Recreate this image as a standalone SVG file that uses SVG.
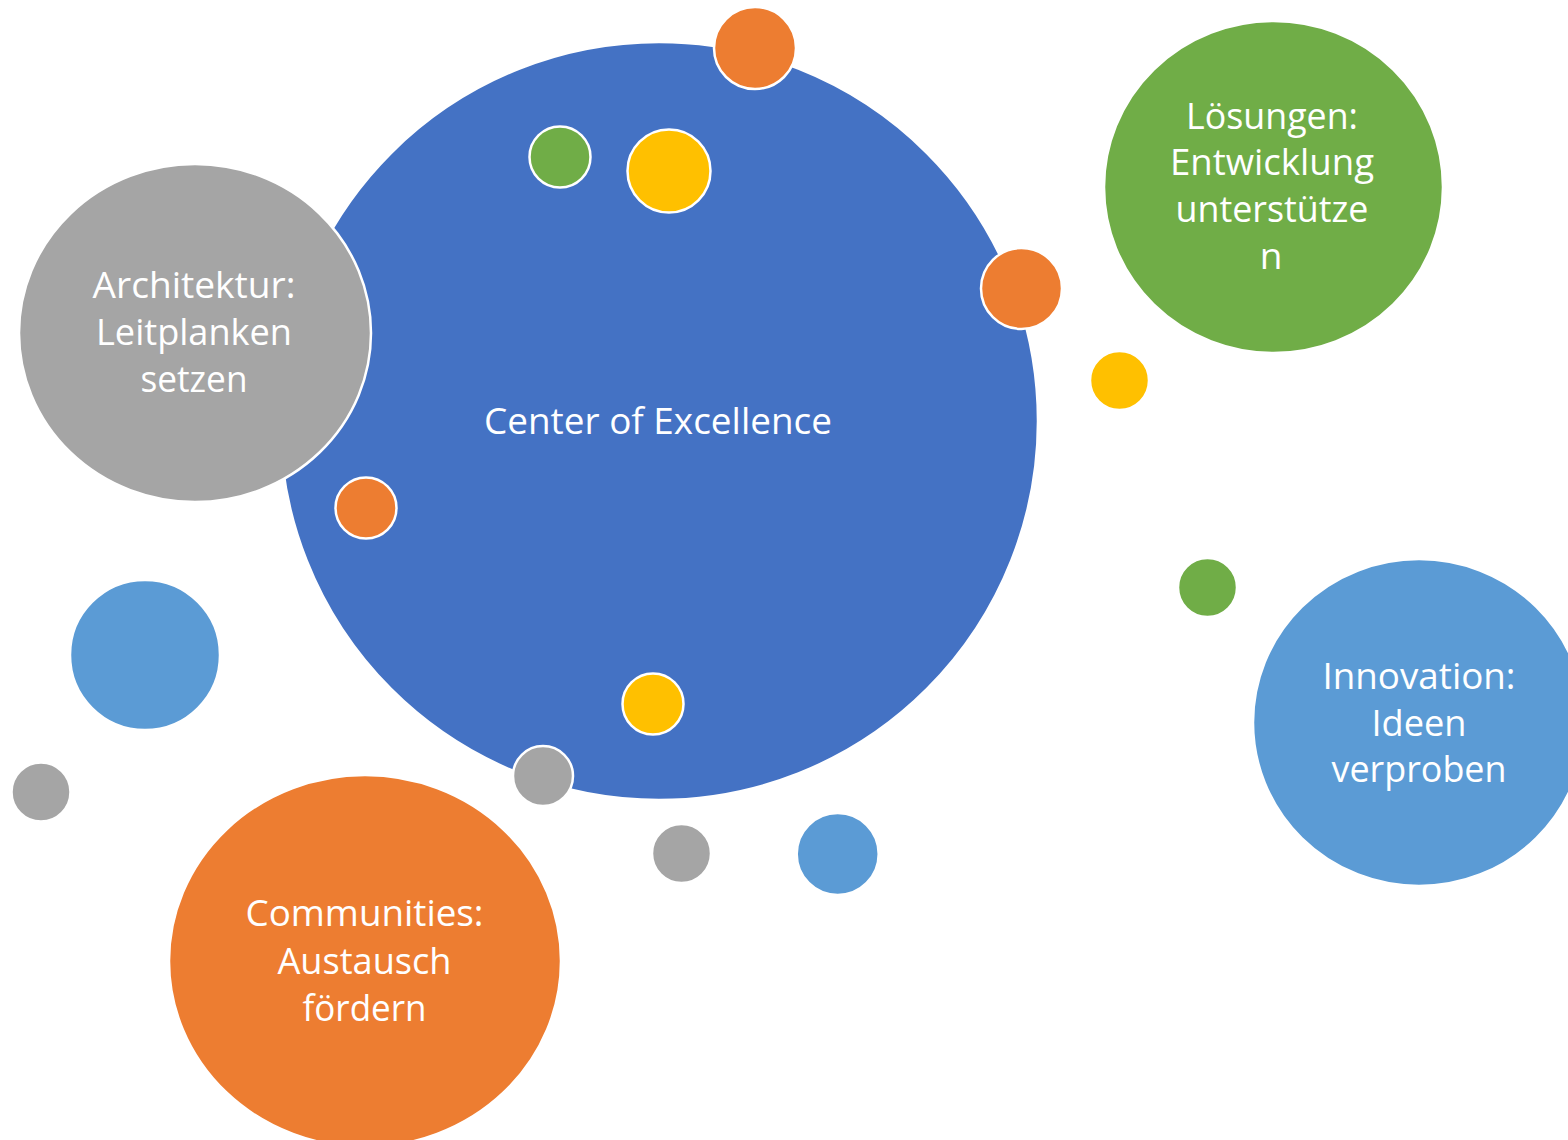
<svg xmlns="http://www.w3.org/2000/svg" width="1568" height="1140" viewBox="0 0 1568 1140">
<style>
.s{stroke:#FFFFFF;stroke-width:2.5}
.t{font-family:"Open Sans","Liberation Sans",sans-serif;font-size:37px;fill:#FFFFFF;text-anchor:middle}
.blue{fill:#4472C4}.gray{fill:#A5A5A5}.green{fill:#70AD47}.lblue{fill:#5B9BD5}.orange{fill:#ED7D31}.yellow{fill:#FFC000}
</style>
<rect x="0" y="0" width="1568" height="1140" fill="#FFFFFF"/>
<g id="connectors"></g>
<g id="center">
<circle class="blue s" cx="659" cy="421" r="379"/>
<text class="t" x="658" y="434" textLength="348" lengthAdjust="spacingAndGlyphs">Center of Excellence</text>
</g>
<g id="architektur">
<ellipse class="gray s" cx="195" cy="333" rx="176" ry="169"/>
<text class="t" x="194" y="298" textLength="203" lengthAdjust="spacingAndGlyphs">Architektur:</text>
<text class="t" x="194" y="345" textLength="196" lengthAdjust="spacingAndGlyphs">Leitplanken</text>
<text class="t" x="194" y="392" textLength="107" lengthAdjust="spacingAndGlyphs">setzen</text>
</g>
<g id="loesungen">
<ellipse class="green s" cx="1273.5" cy="187" rx="169.5" ry="166"/>
<text class="t" x="1272" y="129" textLength="172" lengthAdjust="spacingAndGlyphs">Lösungen:</text>
<text class="t" x="1272" y="175" textLength="204" lengthAdjust="spacingAndGlyphs">Entwicklung</text>
<text class="t" x="1272" y="222" textLength="193" lengthAdjust="spacingAndGlyphs">unterstütze</text>
<text class="t" x="1271" y="269">n</text>
</g>
<g id="innovation">
<ellipse class="lblue s" cx="1419" cy="722.5" rx="166" ry="163.5"/>
<text class="t" x="1419" y="689" textLength="193" lengthAdjust="spacingAndGlyphs">Innovation:</text>
<text class="t" x="1419" y="736" textLength="95" lengthAdjust="spacingAndGlyphs">Ideen</text>
<text class="t" x="1419" y="782" textLength="175" lengthAdjust="spacingAndGlyphs">verproben</text>
</g>
<g id="communities">
<ellipse class="orange s" cx="365" cy="961" rx="196" ry="186"/>
<text class="t" x="364.5" y="926" textLength="238" lengthAdjust="spacingAndGlyphs">Communities:</text>
<text class="t" x="364.5" y="974" textLength="174" lengthAdjust="spacingAndGlyphs">Austausch</text>
<text class="t" x="364.5" y="1021" textLength="124" lengthAdjust="spacingAndGlyphs">fördern</text>
</g>
<g id="dots">
<circle id="dot-orange-top" class="orange s" cx="755" cy="48" r="41"/>
<circle id="dot-green-top" class="green s" cx="560" cy="157" r="30.5"/>
<circle id="dot-yellow-top" class="yellow s" cx="669" cy="171" r="41.5"/>
<circle id="dot-orange-right" class="orange s" cx="1021.5" cy="288.5" r="40.5"/>
<circle id="dot-yellow-right" class="yellow s" cx="1119.5" cy="380.5" r="29.5"/>
<circle id="dot-green-right" class="green s" cx="1207.5" cy="587.5" r="29.5"/>
<circle id="dot-orange-left" class="orange s" cx="366" cy="508" r="30.5"/>
<circle id="dot-blue-left" class="lblue s" cx="145" cy="655" r="75"/>
<circle id="dot-gray-left" class="gray s" cx="41" cy="792" r="29.5"/>
<circle id="dot-yellow-bottom" class="yellow s" cx="653" cy="704" r="30.5"/>
<circle id="dot-gray-bottom" class="gray s" cx="543" cy="776" r="30"/>
<circle id="dot-gray-bottom2" class="gray s" cx="681.5" cy="853.5" r="29.5"/>
<circle id="dot-blue-bottom" class="lblue s" cx="837.7" cy="854" r="41"/>
</g>
</svg>
